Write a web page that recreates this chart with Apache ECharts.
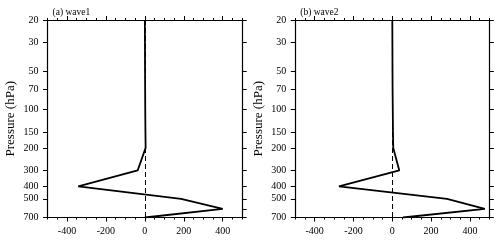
<!DOCTYPE html>
<html><head><meta charset="utf-8">
<script src="https://cdn.jsdelivr.net/npm/echarts@6/dist/echarts.min.js"></script>
<style>html,body{margin:0;padding:0;background:#fff}#c{width:500px;height:241px}</style>
</head><body><div id="c"></div>
<script>
// ---- data ----
const levels = [20, 30, 50, 70, 100, 150, 200, 300, 400, 500, 600, 700];
const wave1 = [0, 0.5, 1, 1.5, 2, 3, 4, -37, -342, 186, 400, 0];
const wave2 = [0, 0.5, 1, 1.5, 2.5, 3.5, 5, 36, -275, 282, 477, 55];
const pTicks = [20, 30, 50, 70, 100, 150, 200, 300, 400, 500, 600, 700];
const xTicks = [-400, -200, 0, 200, 400];
const titles = ['(a) wave1', '(b) wave2'];
const zeroRef = 0;

// ---- build ----
const FONT = 'Liberation Serif';
const lg = v => Math.log10(v);
const pMin = lg(20), pMax = lg(700);
const grids = [
  {left: 47.5, right: 257.8, top: 20, bottom: 23.5},
  {left: 295.3, right: 10.7, top: 20, bottom: 23.5}
];
const xAxes = [], yAxes = [], series = [], titleArr = [];
const waves = [wave1, wave2];
const mkLine = () => ({show: true, onZero: false, lineStyle: {color: '#000', width: 1.2}});
const mkTick = (len, vals) => {
  const t = {show: true, inside: false, length: len, lineStyle: {color: '#000', width: 1}};
  if (vals) t.customValues = vals.slice();
  return t;
};
grids.forEach((g, i) => {
  const base = () => ({type: 'value', gridIndex: i, min: -500, max: 500, splitLine: {show: false}});
  // bottom major + labels
  xAxes.push(Object.assign(base(), {position: 'bottom', axisLine: mkLine(),
    axisTick: mkTick(4, xTicks),
    axisLabel: {show: true, customValues: xTicks.slice(), margin: 9, color: '#000', fontFamily: FONT, fontSize: 10}}));
  // bottom minor
  xAxes.push(Object.assign(base(), {position: 'bottom', interval: 50, axisLine: {show: false, onZero: false},
    axisTick: mkTick(2), axisLabel: {show: false}}));
  // top major
  xAxes.push(Object.assign(base(), {position: 'top', axisLine: mkLine(),
    axisTick: mkTick(4, xTicks), axisLabel: {show: false}}));
  // top minor
  xAxes.push(Object.assign(base(), {position: 'top', interval: 50, axisLine: {show: false, onZero: false},
    axisTick: mkTick(2), axisLabel: {show: false}}));
  const yb = () => ({type: 'value', gridIndex: i, inverse: true, min: pMin, max: pMax, splitLine: {show: false}});
  yAxes.push(Object.assign(yb(), {position: 'left', axisLine: mkLine(),
    axisTick: mkTick(4.5, pTicks.map(lg)),
    axisLabel: {show: true, customValues: pTicks.map(lg), showMaxLabel: true, showMinLabel: true, hideOverlap: false,
      margin: 9, color: '#000', fontFamily: FONT, fontSize: 10,
      formatter: v => String(Math.round(Math.pow(10, v)))},
    name: 'Pressure (hPa)', nameLocation: 'middle', nameGap: 30,
    nameTextStyle: {color: '#000', fontFamily: FONT, fontSize: 13}}));
  yAxes.push(Object.assign(yb(), {position: 'right', axisLine: mkLine(),
    axisTick: mkTick(4.5, pTicks.map(lg)), axisLabel: {show: false}}));
  series.push({
    type: 'line', xAxisIndex: i * 4, yAxisIndex: i * 2, symbol: 'none',
    lineStyle: {color: '#000', width: 1.8},
    data: levels.map((p, k) => [waves[i][k], lg(p)]),
    markLine: {silent: true, symbol: 'none', label: {show: false}, animation: false,
      lineStyle: {color: '#000', width: 1, type: [5, 3]},
      data: [{xAxis: zeroRef}]}
  });
  titleArr.push({text: titles[i], left: g.left, top: 2,
    textStyle: {fontFamily: FONT, fontSize: 9.5, fontWeight: 'normal', color: '#000'}});
});
const chart = echarts.init(document.getElementById('c'));
chart.setOption({
  animation: false,
  backgroundColor: '#fff',
  title: titleArr,
  grid: grids,
  xAxis: xAxes,
  yAxis: yAxes,
  series: series
});
</script></body></html>
